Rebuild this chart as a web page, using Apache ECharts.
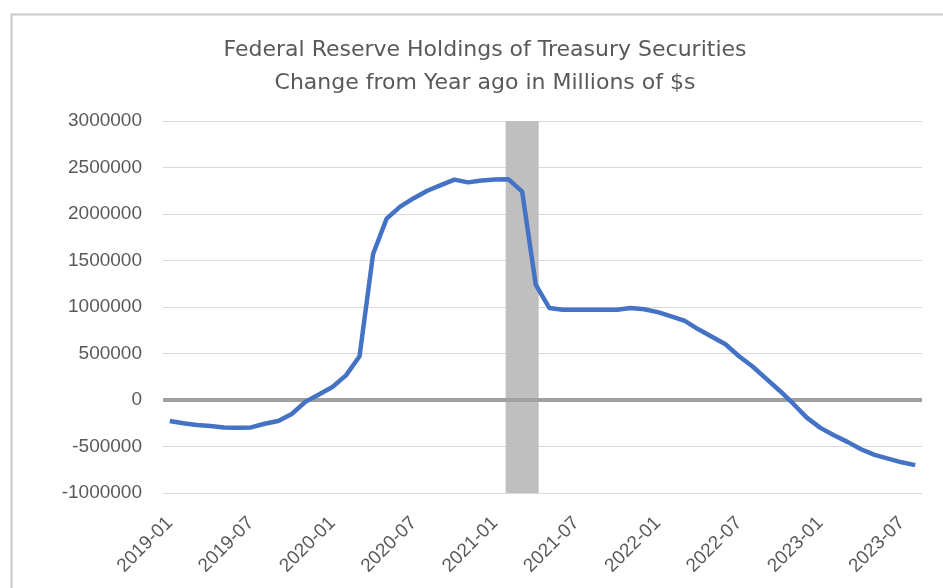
<!DOCTYPE html>
<html>
<head>
<meta charset="utf-8">
<script src="https://cdn.jsdelivr.net/npm/echarts@6/dist/echarts.min.js"></script>
<style>
html,body{margin:0;padding:0;background:#fff;}
#chart{width:943px;height:588px;}
</style>
</head>
<body>
<div id="chart"></div>
<script>
const titleLines = ['Federal Reserve Holdings of Treasury Securities', 'Change from Year ago in Millions of $s'];
const months = [];
for (let y = 2019; y <= 2023; y++) {
  for (let m = 1; m <= 12; m++) {
    if (y === 2023 && m > 8) break;
    months.push(y + '-' + String(m).padStart(2, '0'));
  }
}
const changeValues = [
  -225000, -250000, -268000, -280000, -295000, -298000, -295000, -255000, -225000, -150000, -20000, 60000,
  140000, 265000, 470000, 1570000, 1950000, 2080000, 2170000, 2250000, 2310000, 2370000, 2340000, 2360000,
  2370000, 2373000, 2240000, 1240000, 990000, 970000, 970000, 970000, 970000, 970000, 990000, 975000,
  945000, 900000, 850000, 760000, 680000, 600000, 470000, 360000, 230000, 100000, -40000, -190000,
  -300000, -380000, -450000, -530000, -590000, -630000, -670000, -700000
];
const shadeMonth = '2021-03';
const shadeTop = 3000000;
const shadeBottom = -1000000;
const yMin = -1000000, yMax = 3000000, yStep = 500000;

const shadeUp = months.map(m => m === shadeMonth ? shadeTop : '-');
const shadeDown = months.map(m => m === shadeMonth ? shadeBottom : '-');

const textColor = '#595959';
const font = 'Liberation Sans, Arial, sans-serif';

const chart = echarts.init(document.getElementById('chart'));
chart.setOption({
  animation: false,
  backgroundColor: '#fff',
  graphic: [{
    type: 'rect', left: 9, top: 12, shape: {width: 960, height: 600},
    style: {fill: 'none', stroke: '#c8c8c8', lineWidth: 2}, silent: true, z: -10
  }],
  title: {
    text: titleLines.join('\n'),
    left: 480, top: 29, textAlign: 'center',
    textStyle: {color: textColor, fontSize: 22, fontWeight: 'normal', fontFamily: 'DejaVu Sans, sans-serif', lineHeight: 33}
  },
  grid: {left: 163, right: 21, top: 121, bottom: 95},
  xAxis: {
    type: 'category',
    data: months,
    boundaryGap: true,
    axisLine: {show: false, onZero: false},
    axisTick: {show: false},
    axisLabel: {
      interval: 5, rotate: 45, margin: 27,
      color: textColor, fontSize: 19, fontFamily: font
    },
    splitLine: {show: false}
  },
  yAxis: {
    type: 'value', min: yMin, max: yMax, interval: yStep,
    axisLine: {show: false}, axisTick: {show: false},
    axisLabel: {color: textColor, fontSize: 19, fontFamily: font, margin: 21,
      formatter: v => String(v)},
    splitLine: {lineStyle: {color: '#d9d9d9', width: 1}}
  },
  series: [
    {
      type: 'bar', stack: 'shade', data: shadeUp, barWidth: 33,
      itemStyle: {color: '#bfbfbf'}, silent: true, z: 1,
      markLine: {
        silent: true, symbol: 'none', label: {show: false},
        lineStyle: {color: '#a0a0a0', width: 4, type: 'solid'},
        data: [{yAxis: 0}]
      }
    },
    {
      type: 'bar', stack: 'shade', data: shadeDown, barWidth: 33,
      itemStyle: {color: '#bfbfbf'}, silent: true, z: 1
    },
    {
      type: 'line', data: changeValues, showSymbol: false, z: 5,
      lineStyle: {color: '#4472c4', width: 4.5}
    }
  ]
});
</script>
</body>
</html>
